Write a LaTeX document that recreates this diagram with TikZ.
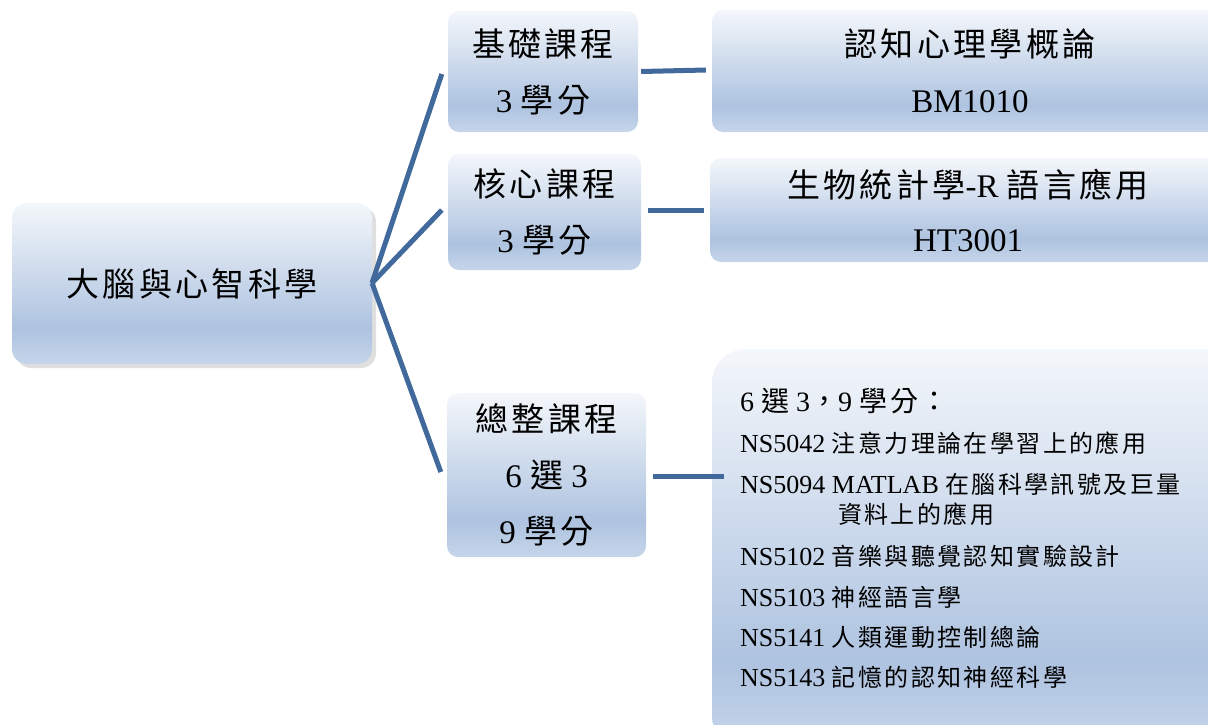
\documentclass[tikz,border=0pt]{standalone}
\usepackage{fontspec}
\setmainfont{Liberation Serif}
\newfontfamily\zh[LetterSpace=10]{Noto Sans CJK TC}
\usetikzlibrary{shadows}
\definecolor{gtop}{HTML}{F4F7FB}
\definecolor{gmid}{HTML}{AEC3E0}
\definecolor{gbot}{HTML}{C6D5EA}
\definecolor{conn}{HTML}{41699C}
\pgfdeclareverticalshading{boxgrad}{100bp}{color(0bp)=(gbot); color(25bp)=(gbot); color(36bp)=(gmid); color(75bp)=(gtop); color(100bp)=(gtop)}
\tikzset{
  gbox/.style={shading=boxgrad, rounded corners=11pt, inner sep=0pt, align=center, text=black},
  bigtext/.style={font=\fontsize{33}{56}\selectfont},
  conline/.style={draw=conn, line width=5pt},
  item/.style={anchor=base west, inner sep=0pt, font=\fontsize{26}{30}\selectfont},
}
\newcommand{\zs}[1]{{\zh\fontsize{24}{30}\selectfont #1}}
\begin{document}
\begin{tikzpicture}[x=1pt,y=-1pt]
\useasboundingbox (0,0) rectangle (1208,724);
\clip (0,0) rectangle (1208,724);
% main box
\node[gbox, rounded corners=15pt, minimum width=360pt, minimum height=161pt,
  drop shadow={shadow xshift=4pt, shadow yshift=-4pt, opacity=0.18, fill=black!70}]
  (main) at (192,283.5) {\zh\fontsize{33}{40}\selectfont 大腦與心智科學};
% middle boxes
\node[gbox, bigtext, minimum width=190pt, minimum height=121pt] (b1) at (543,71.5)
  {{\zh 基礎課程}\\ 3 {\zh 學分}};
\node[gbox, bigtext, minimum width=193pt, minimum height=116pt] (b2) at (544.5,212)
  {{\zh 核心課程}\\ 3 {\zh 學分}};
\node[gbox, bigtext, minimum width=199pt, minimum height=164pt] (b3) at (546.5,475)
  {{\zh 總整課程}\\ 6 {\zh 選} 3\\ 9 {\zh 學分}};
% right boxes
\node[gbox, bigtext, minimum width=516pt, minimum height=122pt] (r1) at (970,71)
  {{\zh 認知心理學概論}\\ BM1010};
\node[gbox, font=\fontsize{33}{54}\selectfont, minimum width=516pt, minimum height=104pt] (r2) at (968,210)
  {{\zh 生物統計學}-R {\zh 語言應用}\\ HT3001};
\node[gbox, rounded corners=34pt, minimum width=540pt, minimum height=400pt] (r3) at (982,549) {};
% connectors
\coordinate (hub) at (372,283);
\draw[conline] (hub) -- ([xshift=-6pt,yshift=-2.5pt]b1.west);
\draw[conline] (hub) -- ([xshift=-6pt,yshift=2pt]b2.west);
\draw[conline] (hub) -- ([xshift=-6pt,yshift=3pt]b3.west);
\draw[conline] ([xshift=3pt]b1.east) -- ([xshift=-6pt,yshift=1pt]r1.west);
\draw[conline] ([xshift=7pt,yshift=2pt]b2.east) -- ([xshift=-6pt]r2.west);
\draw[conline] ([xshift=7pt,yshift=-1pt]b3.east) -- ([xshift=12pt,yshift=73pt]r3.west);
% list in r3
\node[item, font=\fontsize{28}{30}\selectfont] (h) at (740,411) {6 {\zh 選} 3{\zh ，}9 {\zh 學分：}};
\node[item] (l1) at (740,452) {NS5042 \zs{注意力理論在學習上的應用}};
\node[item] (l2) at (740,493) {NS5094 MATLAB \zs{在腦科學訊號及巨量}};
\node[item] (l2b) at (838,523) {\zs{資料上的應用}};
\node[item] (l3) at (740,565) {NS5102 \zs{音樂與聽覺認知實驗設計}};
\node[item] (l4) at (740,606) {NS5103 \zs{神經語言學}};
\node[item] (l5) at (740,646) {NS5141 \zs{人類運動控制總論}};
\node[item] (l6) at (740,686) {NS5143 \zs{記憶的認知神經科學}};
\end{tikzpicture}
\end{document}
